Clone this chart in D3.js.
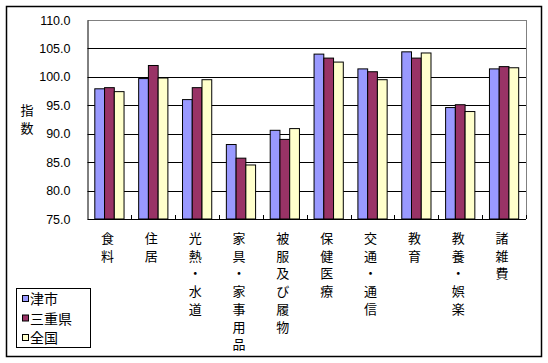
<!DOCTYPE html>
<html>
<head>
<meta charset="utf-8">
<script src="https://cdn.jsdelivr.net/npm/d3@7"></script>
<style>
  html, body { margin: 0; padding: 0; background: #fff; }
  svg { display: block; }
</style>
</head>
<body>
<div id="chart"></div>
<script>
const categories = ['食料', '住居', '光熱・水道', '家具・家事用品', '被服及び履物', '保健医療', '交通・通信', '教育', '教養・娯楽', '諸雑費']
const seriesNames = ['津市', '三重県', '全国']
const tsuValues   = [97.9, 99.7, 96.0, 88.1, 90.6, 104.0, 101.4, 104.4, 94.6, 101.4]
const mieValues   = [98.1, 102.0, 98.1, 85.7, 89.0, 103.3, 100.9, 103.3, 95.1, 101.8]
const zenValues   = [97.4, 99.8, 99.5, 84.5, 90.9, 102.6, 99.5, 104.2, 93.9, 101.6]
const yTicks = [75, 80, 85, 90, 95, 100, 105, 110]

const COLORS = ['#9999ff', '#993366', '#ffffcc']
const W = 548, H = 363
const plot = { left: 87.5, right: 526, top: 20, bottom: 219 }
const JP = '"Noto Sans CJK JP", "Noto Sans", sans-serif'
const NUM = '"Liberation Sans", Arial, sans-serif'

const series = [tsuValues, mieValues, zenValues]

const svg = d3.select('#chart').append('svg')
  .attr('width', W).attr('height', H)

// outer frame
svg.append('rect')
  .attr('x', 6.5).attr('y', 6.5).attr('width', 535).attr('height', 350)
  .attr('fill', '#fff').attr('stroke', '#000').attr('stroke-width', 1.5)

const x = d3.scaleBand().domain(categories)
  .range([plot.left, plot.right])
  .paddingInner(1 / 3).paddingOuter(1 / 6)
const xs = d3.scaleBand().domain(d3.range(series.length)).range([0, x.bandwidth()])
const y = d3.scaleLinear().domain([75, 110]).range([plot.bottom, plot.top])

// gridlines
svg.append('g').selectAll('line').data(yTicks.filter(t => t > 75)).enter().append('line')
  .attr('x1', plot.left).attr('x2', plot.right)
  .attr('y1', d => Math.round(y(d)) + 0.5).attr('y2', d => Math.round(y(d)) + 0.5)
  .attr('stroke', d => d === 110 ? '#808080' : '#000').attr('stroke-width', 1)

// right border of plot area
svg.append('line')
  .attr('x1', plot.right + 0.5).attr('x2', plot.right + 0.5)
  .attr('y1', plot.top).attr('y2', plot.bottom)
  .attr('stroke', '#808080')

// bars
const groups = svg.append('g').selectAll('g').data(categories).enter().append('g')
  .attr('transform', d => `translate(${x(d)},0)`)

groups.selectAll('rect').data((d, i) => series.map((s, k) => ({ k, v: s[i] }))).enter().append('rect')
  .attr('x', d => xs(d.k))
  .attr('y', d => y(d.v))
  .attr('width', xs.bandwidth())
  .attr('height', d => y(75) - y(d.v))
  .attr('fill', d => COLORS[d.k])
  .attr('stroke', '#000').attr('stroke-width', 1)

// axes
const step = x.step()
const xAxis = d3.axisBottom(x).tickSize(0).tickFormat('')
svg.append('g').attr('transform', `translate(0,${plot.bottom + 0.5})`).call(xAxis)
  .call(g => g.select('.domain').attr('stroke', '#000').attr('d', `M${plot.left},0H${plot.right}`))
svg.append('g').selectAll('line').data(d3.range(1, categories.length + 1)).enter().append('line')
  .attr('x1', i => Math.round(plot.left + i * step) + 0.5).attr('x2', i => Math.round(plot.left + i * step) + 0.5)
  .attr('y1', plot.bottom - 4).attr('y2', plot.bottom)
  .attr('stroke', '#000')

const yAxis = d3.axisLeft(y).tickValues(yTicks).tickSize(0).tickPadding(17).tickFormat(d3.format('.1f'))
svg.append('g').attr('transform', `translate(${plot.left},0)`).call(yAxis)
  .call(g => g.select('.domain').attr('stroke', '#000'))
  .call(g => g.selectAll('text').attr('font-family', NUM).attr('font-size', '12.5px').attr('fill', '#000'))

// y-axis title (stacked vertically)
svg.append('text')
  .attr('font-family', JP).attr('font-size', '13px').attr('text-anchor', 'middle')
  .selectAll('tspan').data(['指', '数']).enter().append('tspan')
  .attr('x', 27).attr('y', (d, i) => 115 + i * 18).text(d => d)

// category labels (stacked vertically)
svg.append('g').selectAll('text').data(categories).enter().append('text')
  .attr('font-family', JP).attr('font-size', '13px').attr('text-anchor', 'middle')
  .attr('transform', d => `translate(${x(d) + x.bandwidth() / 2 - 2},0)`)
  .selectAll('tspan').data(d => Array.from(d)).enter().append('tspan')
  .attr('x', 0).attr('y', (c, i) => 243 + i * 17.7).text(c => c)

// legend
const legend = svg.append('g')
legend.append('rect')
  .attr('x', 16.5).attr('y', 288.5).attr('width', 74).attr('height', 59)
  .attr('fill', '#fff').attr('stroke', '#000')
const items = legend.selectAll('g').data(seriesNames).enter().append('g')
  .attr('transform', (d, i) => `translate(0,${299 + i * 19.5})`)
items.append('rect')
  .attr('x', 22.5).attr('y', -3.5).attr('width', 6).attr('height', 6)
  .attr('fill', (d, i) => COLORS[i]).attr('stroke', '#000')
items.append('text')
  .attr('x', 30).attr('y', 5)
  .attr('font-family', JP).attr('font-size', '14px')
  .text(d => d)
</script>
</body>
</html>
